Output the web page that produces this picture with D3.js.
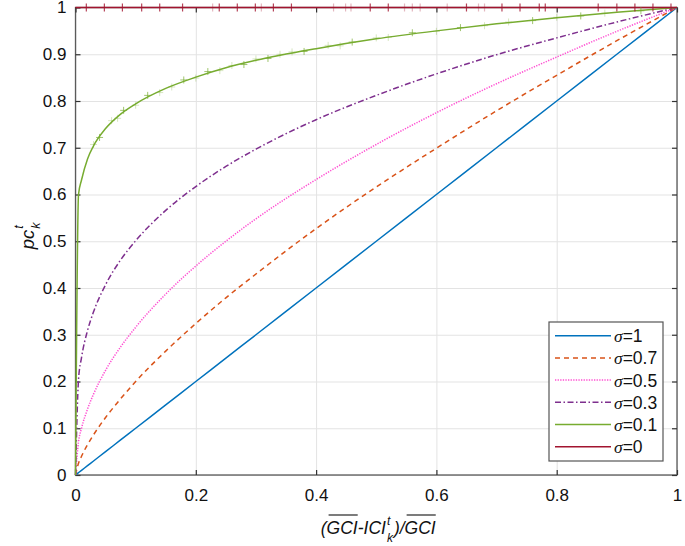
<!DOCTYPE html>
<html>
<head>
<meta charset="utf-8">
<script src="https://cdn.jsdelivr.net/npm/d3@7"></script>
<style>
  html, body { margin: 0; padding: 0; background: #fff; }
  svg { display: block; font-family: "Liberation Sans", Arial, sans-serif; }
</style>
</head>
<body>
<svg id="chart" width="685" height="546"></svg>
<script>
// ---- data ----
const xValues  = [0, 0.005, 0.01, 0.02, 0.03, 0.05, 0.075, 0.1, 0.15, 0.2, 0.25, 0.3, 0.4, 0.5, 0.6, 0.7, 0.8, 0.9, 1];
const sigma1   = [0, 0.005, 0.01, 0.02, 0.03, 0.05, 0.075, 0.1, 0.15, 0.2, 0.25, 0.3, 0.4, 0.5, 0.6, 0.7, 0.8, 0.9, 1];
const sigma07  = [0, 0.025, 0.040, 0.065, 0.086, 0.123, 0.163, 0.200, 0.265, 0.324, 0.379, 0.430, 0.527, 0.616, 0.699, 0.779, 0.855, 0.929, 1];
const sigma05  = [0, 0.071, 0.100, 0.141, 0.173, 0.224, 0.274, 0.316, 0.387, 0.447, 0.500, 0.548, 0.632, 0.707, 0.775, 0.837, 0.894, 0.949, 1];
const sigma03  = [0, 0.204, 0.251, 0.309, 0.349, 0.407, 0.460, 0.501, 0.566, 0.617, 0.660, 0.697, 0.760, 0.812, 0.858, 0.899, 0.935, 0.969, 1];
const sigma01  = [0, 0.600, 0.631, 0.676, 0.704, 0.741, 0.772, 0.794, 0.827, 0.851, 0.871, 0.887, 0.912, 0.933, 0.950, 0.965, 0.978, 0.990, 1];
const sigma0   = [1, 1, 1, 1, 1, 1, 1, 1, 1, 1, 1, 1, 1, 1, 1, 1, 1, 1, 1];
const seriesNames = ["σ=1", "σ=0.7", "σ=0.5", "σ=0.3", "σ=0.1", "σ=0"];

// scattered noisy markers seen along sigma=0.1 and sigma=0
const noise01X = [0.03, 0.04, 0.06, 0.07, 0.08, 0.1, 0.12, 0.14, 0.16, 0.18, 0.2, 0.22, 0.24, 0.26, 0.28, 0.3, 0.32, 0.34, 0.36, 0.38, 0.42, 0.44, 0.46, 0.5, 0.52, 0.56, 0.6, 0.64, 0.68, 0.72, 0.76, 0.8, 0.84, 0.88, 0.94];
const noise01Y = [0.707, 0.722, 0.758, 0.763, 0.780, 0.791, 0.812, 0.818, 0.830, 0.845, 0.849, 0.863, 0.865, 0.876, 0.878, 0.890, 0.891, 0.900, 0.905, 0.906, 0.919, 0.918, 0.926, 0.935, 0.936, 0.946, 0.949, 0.957, 0.961, 0.969, 0.972, 0.979, 0.982, 0.988, 0.993];
const noise01Strong = [0,1,0,0,1,0,1,0,0,1,0,1,0,0,1,0,1,0,0,1,0,0,1,0,0,1,0,1,0,0,1,0,1,0,1];
const noise0X  = [0.018, 0.048, 0.078, 0.11, 0.14, 0.178, 0.228, 0.239, 0.269, 0.299, 0.309, 0.329, 0.359, 0.429, 0.449, 0.458, 0.49, 0.52, 0.547, 0.56, 0.573, 0.618, 0.65, 0.67, 0.68, 0.709, 0.739, 0.771, 0.781, 0.869, 0.9, 0.93, 0.96, 0.99];
const noise0Strong = [1,1,1,1,1,1,0,1,1,1,0,1,1,0,0,0,1,1,0,0,0,0,1,0,0,1,1,1,1,1,1,1,1,1];

const xTicks = [0, 0.2, 0.4, 0.6, 0.8, 1];
const xTickLabels = ["0", "0.2", "0.4", "0.6", "0.8", "1"];
const yTicks = [0, 0.1, 0.2, 0.3, 0.4, 0.5, 0.6, 0.7, 0.8, 0.9, 1];
const yTickLabels = ["0", "0.1", "0.2", "0.3", "0.4", "0.5", "0.6", "0.7", "0.8", "0.9", "1"];

// ---- layout ----
const L = 75.5, R = 677, T = 7.5, B = 475;
const svg = d3.select("#chart");
const x = d3.scaleLinear().domain([0, 1]).range([L, R]);
const y = d3.scaleLinear().domain([0, 1]).range([B, T]);

const colors = ["#0072BD", "#D95319", "#FF4FD2", "#7E2F8E", "#77AC30", "#A2142F"];
const dashes = [null, "5,4", "1.3,1.3", "6,2.5,1.5,2.5", null, null];
const seriesValues = [sigma1, sigma07, sigma05, sigma03, sigma01, sigma0];

// ---- grid ----
const grid = svg.append("g");
grid.append("g").attr("transform", `translate(0,${B})`)
  .call(d3.axisBottom(x).tickValues(xTicks).tickSize(-(B - T)).tickFormat(""))
  .call(g => g.select(".domain").remove());
grid.append("g").attr("transform", `translate(${L},0)`)
  .call(d3.axisLeft(y).tickValues(yTicks).tickSize(-(R - L)).tickFormat(""))
  .call(g => g.select(".domain").remove());

// ---- box & ticks ----
const axisColor = "#5a5a5a";
svg.append("rect").attr("x", L).attr("y", T).attr("width", R - L).attr("height", B - T)
  .attr("fill", "none").attr("stroke", axisColor).attr("stroke-width", 1.3);

const fontSize = 17;
svg.append("g").attr("transform", `translate(0,${B})`)
  .call(d3.axisBottom(x).tickValues(xTicks).tickSize(-5).tickSizeOuter(0).tickPadding(14)
        .tickFormat((d, i) => xTickLabels[i]));
svg.append("g").attr("transform", `translate(${L},0)`)
  .call(d3.axisLeft(y).tickValues(yTicks).tickSize(-5).tickSizeOuter(0).tickPadding(9)
        .tickFormat((d, i) => yTickLabels[i]));
svg.append("g").attr("transform", `translate(0,${T})`)
  .call(d3.axisTop(x).tickValues(xTicks).tickSize(-5).tickSizeOuter(0).tickFormat(""));
svg.append("g").attr("transform", `translate(${R},0)`)
  .call(d3.axisRight(y).tickValues(yTicks).tickSize(-5).tickSizeOuter(0).tickFormat(""));
svg.selectAll(".domain").remove();
svg.selectAll(".tick line").attr("stroke", "#333").attr("stroke-width", 1.2);
grid.selectAll("line").attr("stroke", "#e3e3e3").attr("stroke-width", 1);
svg.selectAll(".tick text").attr("font-size", fontSize).attr("fill", "#111")
  .attr("font-family", "'Liberation Sans', Arial, sans-serif");

// ---- curves ----
const line = d3.line().x(d => x(d[0])).y(d => y(d[1])).curve(d3.curveMonotoneX);
const curves = svg.append("g");
seriesValues.forEach((vals, i) => {
  const pts = xValues.map((xv, j) => [xv, vals[j]]);
  curves.append("path").datum(pts)
    .attr("d", line)
    .attr("fill", "none")
    .attr("stroke", colors[i])
    .attr("stroke-width", i === 5 ? 1.6 : 1.5)
    .attr("stroke-dasharray", dashes[i]);
});

// noisy '+' markers on sigma=0.1
const plusG = svg.append("g");
noise01X.forEach((xv, i) => {
  const cx = x(xv), cy = y(noise01Y[i]);
  const s = 3.5;
  plusG.append("path")
    .attr("d", `M${cx - s},${cy}H${cx + s}M${cx},${cy - s}V${cy + s}`)
    .attr("stroke", colors[4]).attr("stroke-opacity", noise01Strong[i] ? 0.7 : 0.3)
    .attr("stroke-width", 1);
});
// noisy '|' markers on sigma=0
const barG = svg.append("g");
noise0X.forEach((xv, i) => {
  const cx = x(xv), cy = y(1);
  barG.append("line")
    .attr("x1", cx).attr("x2", cx).attr("y1", cy - 4).attr("y2", cy + 4)
    .attr("stroke", colors[5]).attr("stroke-opacity", noise0Strong[i] ? 0.8 : 0.3)
    .attr("stroke-width", 1.2);
});

// ---- legend ----
const lg = svg.append("g");
lg.append("rect").attr("x", 549).attr("y", 322).attr("width", 114).attr("height", 139)
  .attr("fill", "#fff").attr("stroke", "#555").attr("stroke-width", 1.2);
seriesNames.forEach((name, i) => {
  const ry = 335.7 + i * 22.2;
  lg.append("line").attr("x1", 555).attr("x2", 611).attr("y1", ry).attr("y2", ry)
    .attr("stroke", colors[i]).attr("stroke-width", 1.5)
    .attr("stroke-dasharray", dashes[i]);
  const t = lg.append("text").attr("x", 614).attr("y", ry + 6.5)
    .attr("font-size", 17.5).attr("fill", "#111");
  t.append("tspan").attr("font-style", "italic").attr("font-family", "'Liberation Serif', serif").text(name[0]);
  t.append("tspan").text(name.slice(1));
});

// ---- x axis label: (GCI-ICI_k^t)/GCI with overlines ----
const lblSize = 17.5;
const xl = svg.append("g").attr("font-style", "italic").attr("font-size", lblSize).attr("fill", "#111");
const baseY = 534;
const pieces = [
  { t: "(", over: false },
  { t: "GCI", over: true },
  { t: "-ICI", over: false },
  { t: "SUBSUP", over: false },
  { t: ")/", over: false },
  { t: "GCI", over: true }
];
let cursor = 0;
const placed = [];
pieces.forEach(p => {
  if (p.t === "SUBSUP") {
    const sup = xl.append("text").attr("x", cursor + 1).attr("y", baseY - 9).attr("font-size", 12).text("t");
    const sub = xl.append("text").attr("x", cursor + 1).attr("y", baseY + 8).attr("font-size", 12).text("k");
    cursor += Math.max(sub.node().getComputedTextLength(), sup.node().getComputedTextLength()) + 2;
  } else {
    const tx = xl.append("text").attr("x", cursor).attr("y", baseY).text(p.t);
    const w = tx.node().getComputedTextLength();
    placed.push({ start: cursor, w, over: p.over });
    cursor += w;
  }
});
const shift = (L + R) / 2 + 2 - cursor / 2;
xl.attr("transform", `translate(${shift},0)`);
placed.forEach(p => {
  if (p.over) {
    xl.append("line").attr("x1", p.start + 2).attr("x2", p.start + p.w)
      .attr("y1", baseY - 19).attr("y2", baseY - 19).attr("stroke", "#111").attr("stroke-width", 1.1);
  }
});

// ---- y axis label: pc_k^t ----
const yl = svg.append("g").attr("transform", `translate(34,${(T + B) / 2 - 4}) rotate(-90)`)
  .attr("font-style", "italic").attr("fill", "#111");
const pc = yl.append("text").attr("x", -12).attr("y", 0).attr("font-size", 18.5).text("pc");
const pcw = pc.node().getComputedTextLength();
yl.append("text").attr("x", -12 + pcw + 1).attr("y", -11).attr("font-size", 12.5).text("t");
yl.append("text").attr("x", -12 + pcw + 1).attr("y", 6).attr("font-size", 12.5).text("k");
</script>
</body>
</html>
